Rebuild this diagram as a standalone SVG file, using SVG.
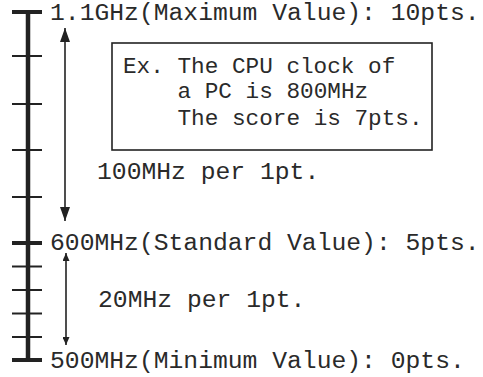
<svg xmlns="http://www.w3.org/2000/svg" width="483" height="377" viewBox="0 0 483 377">
<defs>
<marker id="ah" viewBox="0 0 14 10" refX="14" refY="5" markerWidth="14" markerHeight="10" markerUnits="userSpaceOnUse" orient="auto-start-reverse"><path d="M0,0 L14,5 L0,10 Z" fill="#222"/></marker>
<marker id="as" viewBox="0 0 8 7" refX="8" refY="3.5" markerWidth="8" markerHeight="7" markerUnits="userSpaceOnUse" orient="auto-start-reverse"><path d="M0,0 L8,3.5 L0,7 Z" fill="#222"/></marker>
</defs>
<style>
text{font-family:"Liberation Mono","Courier New",monospace;font-size:24.7px;fill:#2a2a2a}
.box{font-size:22.7px}
.thin{stroke:#222;stroke-width:2}
.thick{stroke:#222;stroke-width:4}
.arr{stroke:#222;stroke-width:1.6;fill:none}
</style>
<rect width="483" height="377" fill="#fff"/>
<g id="axis">
<line x1="28" y1="12" x2="28" y2="360" stroke="#222" stroke-width="4.5"/>
<line class="thick" x1="12" y1="12" x2="42" y2="12"/>
<line class="thin" x1="12" y1="56" x2="42" y2="56"/>
<line class="thin" x1="12" y1="104" x2="42" y2="104"/>
<line class="thin" x1="12" y1="150" x2="42" y2="150"/>
<line class="thin" x1="12" y1="197" x2="42" y2="197"/>
<line class="thick" x1="12" y1="243" x2="42" y2="243"/>
<line class="thin" x1="12" y1="266.5" x2="42" y2="266.5"/>
<line class="thin" x1="12" y1="290" x2="42" y2="290"/>
<line class="thin" x1="12" y1="313.5" x2="42" y2="313.5"/>
<line class="thin" x1="12" y1="337" x2="42" y2="337"/>
<line class="thick" x1="12" y1="360" x2="42" y2="360"/>
</g>
<g id="max-label"><text x="50" y="20">1.1GHz(Maximum Value): 10pts.</text></g>
<g id="std-label"><text x="50" y="250">600MHz(Standard Value): 5pts.</text></g>
<g id="min-label"><text x="50" y="368">500MHz(Minimum Value): 0pts.</text></g>
<g id="example-box">
<rect x="112" y="43" width="320" height="107" fill="none" stroke="#222" stroke-width="1.6"/>
<text class="box" x="123" y="73">Ex. The CPU clock of</text>
<text class="box" x="177.5" y="98">a PC is 800MHz</text>
<text class="box" x="177.5" y="125">The score is 7pts.</text>
</g>
<g id="upper-range"><text x="97" y="179">100MHz per 1pt.</text></g>
<g id="lower-range"><text x="98" y="307">20MHz per 1pt.</text></g>
<g id="connectors">
<line class="arr" x1="65" y1="28" x2="65" y2="221" marker-start="url(#ah)" marker-end="url(#ah)"/>
<line class="arr" x1="66" y1="253" x2="66" y2="345" marker-start="url(#as)" marker-end="url(#as)"/>
</g>
</svg>
